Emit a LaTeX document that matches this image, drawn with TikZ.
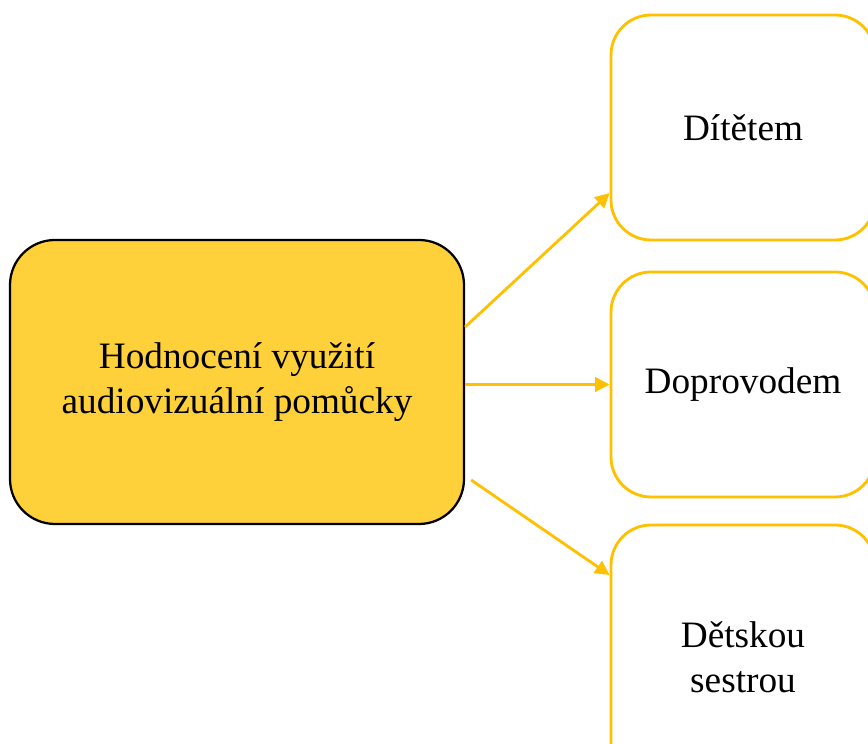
\documentclass[tikz,border=0pt]{standalone}
\usepackage{fontspec}
\setmainfont{Liberation Serif}
\usetikzlibrary{arrows.meta}
\definecolor{gold}{HTML}{FFC000}
\definecolor{sun}{HTML}{FED03A}

\begin{document}
\begin{tikzpicture}[
  every node/.style={align=center,font=\fontsize{26.5}{32}\selectfont},
  mainbox/.style={draw=black,line width=1.6pt,fill=sun,rounded corners=1.125cm,
    minimum width=11.35cm,minimum height=7.1cm},
  leafbox/.style={draw=gold,line width=2pt,fill=white,rounded corners=1cm,
    minimum width=6.6cm,minimum height=5.625cm},
  link/.style={draw=gold,line width=2pt,-{Triangle[length=0.36cm,width=0.36cm]}}
  ]
  \useasboundingbox (0,0) rectangle (21.7,18.6);
  \clip (0,0) rectangle (21.7,18.6);
  \node[mainbox] (hod) at (5.925,9.05) {Hodnocení využití\\audiovizuální pomůcky};
  \node[leafbox] (dit) at (18.575,15.4125) {Dítětem};
  \node[leafbox] (dop) at (18.575,8.9875) {Doprovodem};
  \node[leafbox,minimum height=6.6cm] (ses) at (18.575,2.175) {Dětskou\\sestrou};
  \draw[link] ([yshift=1.375cm]hod.east) -- ([yshift=-1.64cm]dit.west);
  \draw[link] (hod.east |- dop.west) -- (dop.west);
  \draw[link] ([xshift=0.15cm,yshift=-2.45cm]hod.east) -- ([yshift=2.05cm]ses.west);
\end{tikzpicture}
\end{document}
